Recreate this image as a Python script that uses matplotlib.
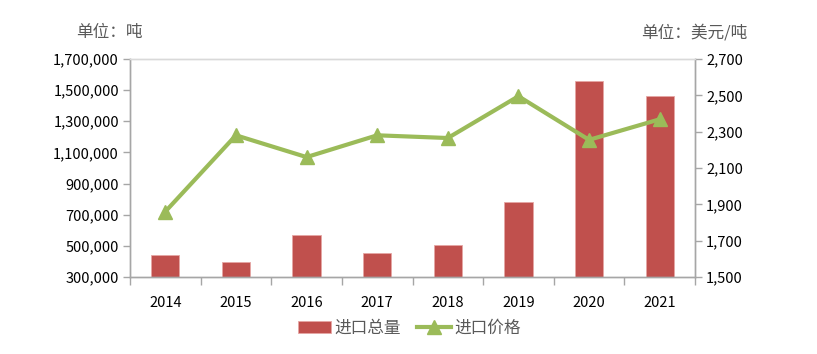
import matplotlib
matplotlib.use("Agg")
import matplotlib.pyplot as plt
from matplotlib.ticker import FuncFormatter, FixedLocator
import numpy as np

plt.rcParams['font.family'] = ['Noto Sans CJK SC', 'DejaVu Sans']

years = ["2014", "2015", "2016", "2017", "2018", "2019", "2020", "2021"]
volume = [441000, 396000, 568000, 452000, 503000, 780000, 1557000, 1462000]
price = [1860, 2280, 2160, 2280, 2265, 2495, 2255, 2368]

bar_color = "#C0504D"
line_color = "#9BBB59"
axis_gray = "#A6A6A6"
text_color = "#000000"

fig = plt.figure(figsize=(8.17, 3.54), dpi=100)
ax = fig.add_axes([130/817, 1-277/354, (695-130)/817, (277-59)/354])
x = np.arange(len(years))
b = ax.bar(x, volume, width=0.4, color=bar_color, edgecolor="#E6A6A4", linewidth=0.6, label="进口总量", zorder=2)
ax.set_xlim(-0.5, len(years) - 0.5)
ax.set_ylim(300000, 1700000)
ax.set_yticks(np.arange(300000, 1700001, 200000))
ax.yaxis.set_major_formatter(FuncFormatter(lambda v, p: f"{int(v):,}"))
ax.set_xticks(x)
ax.set_xticklabels(years)
ax.xaxis.set_minor_locator(FixedLocator(np.arange(-0.5, len(years), 1.0)))
ax.tick_params(axis='x', which='major', length=0, pad=14, labelsize=10.5, labelcolor=text_color)
ax.tick_params(axis='x', which='minor', length=6, color=axis_gray, width=1)
ax.tick_params(axis='y', length=5, color=axis_gray, width=1, labelsize=10.5, labelcolor=text_color, pad=3)

ax2 = ax.twinx()
l, = ax2.plot(x, price, color=line_color, linewidth=3, marker='^', markersize=10, label="进口价格", zorder=3)
ax2.set_ylim(1500, 2700)
ax2.set_yticks(np.arange(1500, 2701, 200))
ax2.yaxis.set_major_formatter(FuncFormatter(lambda v, p: f"{int(v):,}"))
ax2.tick_params(axis='y', length=5, color=axis_gray, width=1, labelsize=10.5, labelcolor=text_color, pad=3)

for a in (ax, ax2):
    a.spines['top'].set_color("#D9D9D9")
    a.spines['bottom'].set_color(axis_gray)
    a.spines['left'].set_color(axis_gray)
    a.spines['right'].set_color(axis_gray)
    for s in a.spines.values():
        s.set_linewidth(1)

fig.text(76/817, 1-33/354, "单位：吨", fontsize=12, color="#595959", va='center', ha='left')
fig.text(747/817, 1-33/354, "单位：美元/吨", fontsize=12, color="#595959", va='center', ha='right')

leg = fig.legend([b, l], ["进口总量", "进口价格"], loc='center', bbox_to_anchor=(409/817, 1-328/354),
                 ncol=2, frameon=False, fontsize=12, handlelength=2.0, columnspacing=1.0, handletextpad=0.2)
for t in leg.get_texts():
    t.set_color("#595959")

fig.savefig("out.png", dpi=100)
